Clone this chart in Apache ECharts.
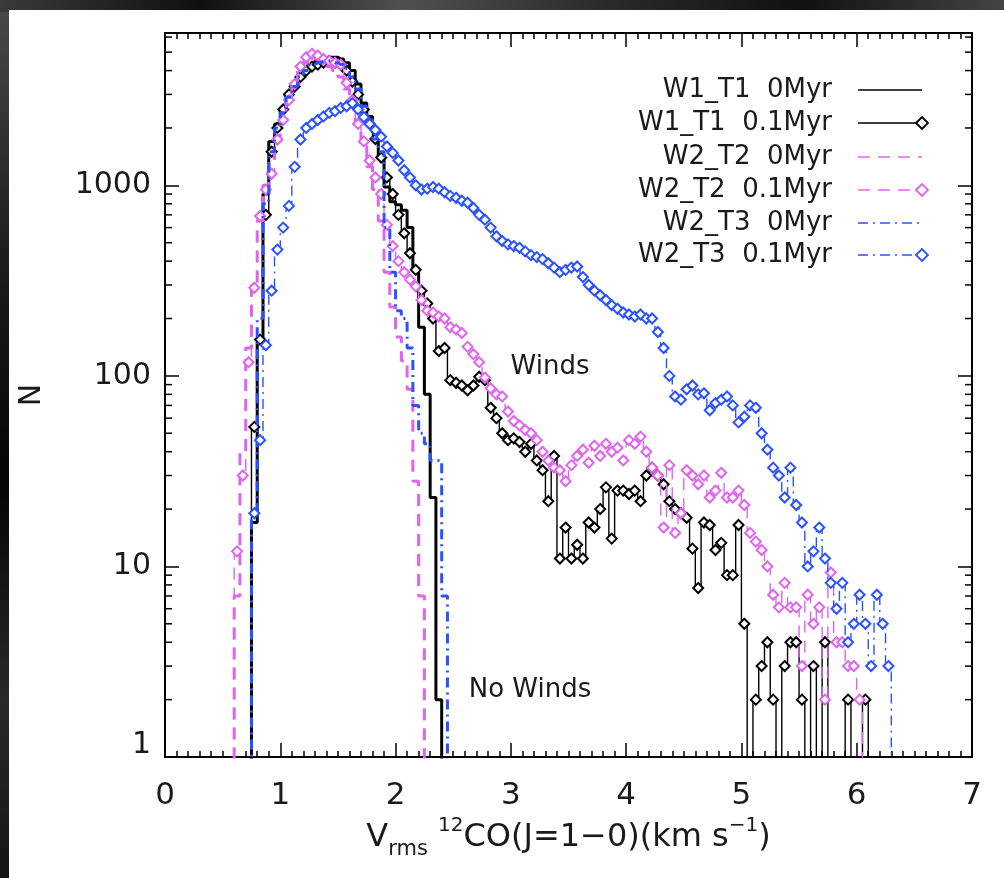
<!DOCTYPE html>
<html>
<head>
<meta charset="utf-8">
<script src="https://cdn.jsdelivr.net/npm/echarts@6/dist/echarts.min.js"></script>
<style>
  html, body { margin: 0; padding: 0; background: #000; }
  #frame {
    position: relative; width: 1004px; height: 878px; overflow: hidden;
    background: linear-gradient(180deg, #4a4a4a 0%, #1c1c1c 30%, #050505 55%, #2a2a2a 80%, #151515 100%);
  }
  #frame::before {
    content: ''; position: absolute; left: 0; top: 0; width: 1004px; height: 12px;
    background: linear-gradient(90deg, #3a3a3a, #101010 20%, #505050 40%, #2b2b2b 60%, #111 80%, #444);
  }
  #chart { position: absolute; left: 9px; top: 10px; width: 995px; height: 868px; background: #fff; }
</style>
</head>
<body>
<div id="frame"><div id="chart"></div></div>
<script>
// Histogram bin centres (km/s), bin width 0.05
const binCenters = [
  0.575, 0.625, 0.675, 0.725, 0.775, 0.825, 0.875, 0.925, 0.975, 1.025,
  1.075, 1.125, 1.175, 1.225, 1.275, 1.325, 1.375, 1.425, 1.475, 1.525,
  1.575, 1.625, 1.675, 1.725, 1.775, 1.825, 1.875, 1.925, 1.975, 2.025,
  2.075, 2.125, 2.175, 2.225, 2.275, 2.325, 2.375, 2.425, 2.475, 2.525,
  2.575, 2.625, 2.675, 2.725, 2.775, 2.825, 2.875, 2.925, 2.975, 3.025,
  3.075, 3.125, 3.175, 3.225, 3.275, 3.325, 3.375, 3.425, 3.475, 3.525,
  3.575, 3.625, 3.675, 3.725, 3.775, 3.825, 3.875, 3.925, 3.975, 4.025,
  4.075, 4.125, 4.175, 4.225, 4.275, 4.325, 4.375, 4.425, 4.475, 4.525,
  4.575, 4.625, 4.675, 4.725, 4.775, 4.825, 4.875, 4.925, 4.975, 5.025,
  5.075, 5.125, 5.175, 5.225, 5.275, 5.325, 5.375, 5.425, 5.475, 5.525,
  5.575, 5.625, 5.675, 5.725, 5.775, 5.825, 5.875, 5.925, 5.975, 6.025,
  6.075, 6.125, 6.175, 6.225, 6.275, 6.325, 6.375, 6.425
];

// Counts per bin (null = outside the plotted range, 0 = empty bin)
const w1t1_0Myr = [
  null, null, null, 0, 17, 150, 900, 1700, 2100, 2500,
  3000, 3400, 3800, 4100, 4300, 4500, 4600, 4700, 4700, 4600,
  4400, 4000, 3400, 2700, 2300, 1900, 1400, 980, 820, 790,
  740, 600, 360, 180, 80, 23, 2, 0, null, null,
  null, null, null, null, null, null, null, null, null, null,
  null, null, null, null, null, null, null, null, null, null,
  null, null, null, null, null, null, null, null, null, null,
  null, null, null, null, null, null, null, null, null, null,
  null, null, null, null, null, null, null, null, null, null,
  null, null, null, null, null, null, null, null, null, null,
  null, null, null, null, null, null, null, null, null, null,
  null, null, null, null, null, null, null, null
];
const w1t1_01Myr = [
  null, null, null, 0, 54, 155, 700, 1500, 2000, 2500,
  3000, 3300, 3700, 4000, 4200, 4300, 4400, 4500, 4400, 4300,
  4000, 3500, 3000, 2500, 2100, 1750, 1400, 1100, 900, 700,
  560, 440, 360, 280, 240, 200, 135, 140, 95, 92,
  89, 84, 89, 99, 95, 68, 60, 50, 46, 47,
  45, 40, 44, 36, 32, 22, 38, 11, 16, 11,
  13, 11, 17, 16, 20, 26, 14, 25, 25, 24,
  25, 22, 30, 33, 30, 27, 22, 20, 19, 18,
  12.4, 7.7, 17, 16.5, 12.2, 13.3, 9, 9, 16.5, 5,
  0, 2, 3, 4, 2, 0, 3, 4, 4, 2,
  0, 3, 0, 4, 0, 0, 0, 2, 0, 0,
  2, 0, null, null, null, null, null, null
];
const w2t2_0Myr = [
  0, 7, 40, 140, 300, 650, 1000, 1300, 1700, 2200,
  2800, 3400, 4000, 4400, 4600, 4600, 4400, 4200, 4000, 3700,
  3200, 2700, 2100, 1600, 1250, 950, 650, 350, 230, 160,
  120, 85, 28, 7, 0, null, null, null, null, null,
  null, null, null, null, null, null, null, null, null, null,
  null, null, null, null, null, null, null, null, null, null,
  null, null, null, null, null, null, null, null, null, null,
  null, null, null, null, null, null, null, null, null, null,
  null, null, null, null, null, null, null, null, null, null,
  null, null, null, null, null, null, null, null, null, null,
  null, null, null, null, null, null, null, null, null, null,
  null, null, null, null, null, null, null, null
];
const w2t2_01Myr = [
  0, 12, 30, 118, 290, 690, 950, 1150, 1740, 2200,
  2800, 3400, 4200, 4700, 4900, 4800, 4600, 4500, 4400, 4300,
  3450, 2800, 2100, 1700, 1350, 1100, 900, 620, 480, 400,
  350, 320, 295, 250, 220, 215, 205, 200, 180, 175,
  168, 142, 130, 118, 98, 86, 80, 78, 65, 58,
  55, 52, 50, 46, 40, 36, 33, 32, 28, 34,
  38, 41, 35, 43, 38, 44, 40, 42, 36, 46,
  44, 48, 40, 33, 30, 16, 34, 15, 19, 32,
  30, 27, 30, 23, 25, 31, 23, 23, 25, 21,
  15, 13.5, 12.2, 10, 7.1, 6.1, 8.2, 6.1, 6.1, 3,
  7.1, 5, 6.1, 2, 9.3, 4, 4, 3, 3, 2,
  0, null, null, null, null, null, null, null
];
const w2t3_0Myr = [
  null, null, null, 0, 20, 200, 800, 1500, 2000, 2400,
  2900, 3300, 3700, 4000, 4300, 4400, 4500, 4500, 4400, 4300,
  4100, 3700, 3200, 2600, 2200, 1750, 1500, 600, 350, 220,
  200, 140, 70, 50, 44, 36, 36, 7, 0, null,
  null, null, null, null, null, null, null, null, null, null,
  null, null, null, null, null, null, null, null, null, null,
  null, null, null, null, null, null, null, null, null, null,
  null, null, null, null, null, null, null, null, null, null,
  null, null, null, null, null, null, null, null, null, null,
  null, null, null, null, null, null, null, null, null, null,
  null, null, null, null, null, null, null, null, null, null,
  null, null, null, null, null, null, null, null
];
const w2t3_01Myr = [
  null, null, null, 0, 19, 46, 145, 280, 460, 600,
  780, 1250, 1740, 2000, 2100, 2200, 2300, 2400, 2450, 2550,
  2600, 2700, 2500, 2280, 2100, 1950, 1800, 1600, 1480, 1350,
  1200, 1100, 1000, 950, 960, 980, 960, 920, 880, 860,
  830, 810, 760, 700, 660, 600, 540, 510, 490, 480,
  470, 450, 430, 420, 410, 390, 370, 350, 360, 370,
  375, 330, 300, 280, 265, 250, 235, 225, 215, 210,
  205, 210, 200, 200, 170, 140, 100, 78, 75, 85,
  89, 80, 81, 66, 72, 75, 78, 70, 57, 61,
  70, 68, 50, 41, 33, 30, 23, 33, 21, 17,
  10, 12, 16, 11, 8.2, 6, 8.2, 4, 5, 7.1,
  5, 3, 7.1, 5, 3, 0, null, null
];

// Axis tick values
const xTickLabels = [0, 1, 2, 3, 4, 5, 6, 7];
const yDecades = [1, 10, 100, 1000];
const yMinorTicks = [
  2, 3, 4, 5, 6, 7, 8, 9,
  20, 30, 40, 50, 60, 70, 80, 90,
  200, 300, 400, 500, 600, 700, 800, 900,
  2000, 3000, 4000, 5000, 6000
];

const X_MIN = 0, X_MAX = 7, Y_MIN = 1, Y_MAX = 6300;
const FLOOR = 0.3;               // empty bins drop below the axis floor and get clipped
const FONT = 'DejaVu Sans';
const INK = '#1a1a1a';
const PINK = '#e064ee';
const BLUE = '#2a52ff';
const DASH = [12, 8];
const DASHDOT = [10, 5, 2, 5];

const seriesDefs = [
  { name: 'W1_T1  0Myr',   values: w1t1_0Myr,  color: '#000', width: 3,   dash: 'solid', marker: false },
  { name: 'W1_T1  0.1Myr', values: w1t1_01Myr, color: '#000', width: 1.4, dash: 'solid', marker: true },
  { name: 'W2_T2  0Myr',   values: w2t2_0Myr,  color: PINK,   width: 3,   dash: DASH,    marker: false },
  { name: 'W2_T2  0.1Myr', values: w2t2_01Myr, color: PINK,   width: 1.4, dash: DASH,    marker: true },
  { name: 'W2_T3  0Myr',   values: w2t3_0Myr,  color: BLUE,   width: 3,   dash: DASHDOT, marker: false },
  { name: 'W2_T3  0.1Myr', values: w2t3_01Myr, color: BLUE,   width: 1.4, dash: DASHDOT, marker: true }
];

function toPoints(values) {
  const pts = [];
  binCenters.forEach((x, i) => {
    const v = values[i];
    if (v === null || v === undefined) return;
    pts.push([x, v > 0 ? v : FLOOR]);
  });
  return pts;
}

const lineSeries = seriesDefs.map((d, i) => ({
  type: 'line',
  name: d.name,
  data: toPoints(d.values),
  step: 'middle',
  xAxisIndex: 0,
  yAxisIndex: 0,
  showSymbol: d.marker,
  showAllSymbol: true,
  symbol: 'emptyDiamond',
  symbolSize: 10,
  lineStyle: { color: d.color, width: d.width, type: d.dash },
  itemStyle: { color: d.color, borderColor: d.color, borderWidth: 1.5 },
  clip: true,
  silent: true,
  z: 2 + i
}));

// Short minor ticks on both vertical frame edges
const minorTickSeries = {
  type: 'custom',
  xAxisIndex: 0,
  yAxisIndex: 0,
  silent: true,
  clip: false,
  z: 20,
  data: yMinorTicks.map(v => [X_MIN, v]),
  encode: { x: 0, y: 1 },
  renderItem: (params, api) => {
    const v = api.value(1);
    const l = api.coord([X_MIN, v]);
    const r = api.coord([X_MAX, v]);
    return {
      type: 'group',
      children: [
        { type: 'line', shape: { x1: l[0], y1: l[1], x2: l[0] + 7, y2: l[1] }, style: { stroke: '#000', lineWidth: 1.5 } },
        { type: 'line', shape: { x1: r[0] - 7, y1: r[1], x2: r[0], y2: r[1] }, style: { stroke: '#000', lineWidth: 1.5 } }
      ]
    };
  }
};

const axisLineStyle = { color: '#000', width: 2 };
const tickStyle = { color: '#000', width: 1.5 };

const xBase = {
  type: 'value', min: X_MIN, max: X_MAX, interval: 1,
  axisLine: { show: true, onZero: false, lineStyle: axisLineStyle },
  axisTick: { show: true, inside: true, length: 14, lineStyle: tickStyle },
  minorTick: { show: true, splitNumber: 10, length: 6, lineStyle: tickStyle },
  splitLine: { show: false },
  minorSplitLine: { show: false }
};
const yBase = {
  type: 'log', logBase: 10, min: Y_MIN, max: Y_MAX,
  axisLine: { show: true, onZero: false, lineStyle: axisLineStyle },
  axisTick: { show: true, inside: true, length: 14, lineStyle: tickStyle },
  minorTick: { show: false },
  splitLine: { show: false }
};

// Legend rows and text annotations (drawn as plain graphics)
const legendRight = 823, legendLineX1 = 849, legendLineX2 = 913;
const legendRows = [80, 113, 147, 180, 213, 245];
const legendGraphics = [];
seriesDefs.forEach((d, i) => {
  const y = legendRows[i];
  legendGraphics.push({
    type: 'text', x: legendRight, y: y, z: 50,
    style: { text: d.name, fontFamily: FONT, fontSize: 26, fill: INK, align: 'right', verticalAlign: 'middle' }
  });
  legendGraphics.push({
    type: 'line', z: 50,
    shape: { x1: legendLineX1, y1: y, x2: legendLineX2, y2: y },
    style: { stroke: d.color, lineWidth: 1.5, lineDash: d.dash === 'solid' ? null : d.dash }
  });
  if (d.marker) {
    legendGraphics.push({
      type: 'polygon', z: 51,
      shape: { points: [[legendLineX2 - 6, y], [legendLineX2, y - 6], [legendLineX2 + 6, y], [legendLineX2, y + 6]] },
      style: { fill: '#fff', stroke: d.color, lineWidth: 1.8 }
    });
  }
});
const noteGraphics = [
  { type: 'text', x: 541, y: 357, z: 50,
    style: { text: 'Winds', fontFamily: FONT, fontSize: 26, fill: INK, align: 'center', verticalAlign: 'middle' } },
  { type: 'text', x: 521, y: 680, z: 50,
    style: { text: 'No Winds', fontFamily: FONT, fontSize: 26, fill: INK, align: 'center', verticalAlign: 'middle' } }
];

const chart = echarts.init(document.getElementById('chart'), null, { renderer: 'canvas' });
chart.setOption({
  animation: false,
  backgroundColor: '#fff',
  grid: { left: 156, right: 32, top: 23, bottom: 121, containLabel: false },
  xAxis: [
    Object.assign({}, xBase, {
      position: 'bottom',
      axisLabel: {
        fontFamily: FONT, fontSize: 31, color: INK, margin: 23,
        formatter: v => (xTickLabels.indexOf(v) >= 0 ? String(v) : '')
      },
      name: '{v|V}{sub|rms} {sup|12}{t|CO(J=1\u22120)(km s}{sup|\u22121}{t|)}',
      nameLocation: 'middle',
      nameGap: 52,
      nameTextStyle: {
        fontFamily: FONT, fontSize: 32, color: INK,
        rich: {
          v:   { fontFamily: FONT, fontSize: 32, color: INK, lineHeight: 44, verticalAlign: 'middle' },
          t:   { fontFamily: FONT, fontSize: 32, color: INK, lineHeight: 44, verticalAlign: 'middle' },
          sub: { fontFamily: FONT, fontSize: 21, color: INK, verticalAlign: 'bottom', lineHeight: 21 },
          sup: { fontFamily: FONT, fontSize: 20, color: INK, verticalAlign: 'top', lineHeight: 20 }
        }
      }
    }),
    Object.assign({}, xBase, { position: 'top', axisLabel: { show: false } })
  ],
  yAxis: [
    Object.assign({}, yBase, {
      position: 'left',
      axisLabel: {
        fontFamily: FONT, fontSize: 30, color: INK, margin: 14, showMaxLabel: false,
        formatter: v => {
          const r = Math.round(v);
          if (yDecades.indexOf(r) < 0) return '';
          return r === 1 ? '{low|1}' : String(r);
        },
        rich: { low: { fontFamily: FONT, fontSize: 30, color: INK, padding: [0, 0, 24, 0] } }
      },
      name: 'N',
      nameLocation: 'middle',
      nameRotate: 90,
      nameGap: 118,
      nameTextStyle: { fontFamily: FONT, fontSize: 30, color: INK }
    }),
    Object.assign({}, yBase, { position: 'right', axisLabel: { show: false } })
  ],
  series: lineSeries.concat([minorTickSeries]),
  graphic: legendGraphics.concat(noteGraphics)
});
</script>
</body>
</html>
